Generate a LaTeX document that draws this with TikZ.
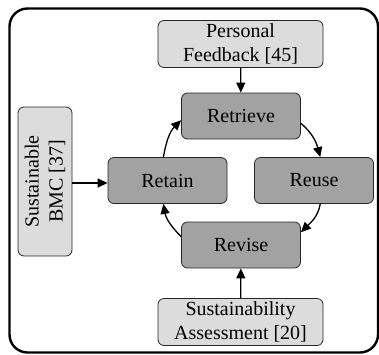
\documentclass[tikz,border=0pt]{standalone}
\usepackage{fontspec}
\setmainfont{Liberation Serif}
\usetikzlibrary{arrows.meta}
\definecolor{lightbox}{HTML}{DCDCDC}
\definecolor{darkbox}{HTML}{A2A2A2}
\begin{document}
\begin{tikzpicture}[x=1pt,y=-1pt,
  base/.style={draw=black!85,line width=0.8pt,rounded corners=6pt,align=center,
    font=\fontsize{20}{24}\selectfont,inner sep=0pt},
  inbox/.style={base,fill=lightbox,minimum width=165pt,minimum height=47pt},
  cyc/.style={base,fill=darkbox,minimum width=119pt,minimum height=46pt},
  arr/.style={line width=1.3pt,-{Triangle[length=10pt,width=9pt]}},
]
\useasboundingbox (0,0) rectangle (379,354);
\draw[line width=2.4pt,rounded corners=18pt] (9.5,8.5) rectangle (378,352.5);
\node[inbox] (pf) at (240.5,44) {Personal\\Feedback [45]};
\node[cyc] (retrieve) at (241,116) {Retrieve};
\node[cyc] (retain) at (167.5,180.5) {Retain};
\node[cyc] (reuse) at (314,180.5) {Reuse};
\node[cyc] (revise) at (241,245) {Revise};
\node[inbox] (sa) at (240.5,322) {Sustainability\\Assessment [20]};
\node[base,fill=lightbox,rotate=90,minimum width=149pt,minimum height=54pt] (bmc) at (45,181.5) {Sustainable\\BMC [37]};
\draw[arr] (pf) -- (retrieve);
\draw[arr] (sa) -- (revise);
\draw[arr] (bmc.south |- 0,183) -- (retain.west |- 0,183);
\draw[arr] (retain.100) to[out=80,in=225] (retrieve.184);
\draw[arr] (retrieve.-7) to[out=-40,in=105] (reuse.75);
\draw[arr] (reuse.-75) to[out=-100,in=45] (revise.12);
\draw[arr] (revise.172) to[out=135,in=-80] (retain.-100);
\end{tikzpicture}
\end{document}
